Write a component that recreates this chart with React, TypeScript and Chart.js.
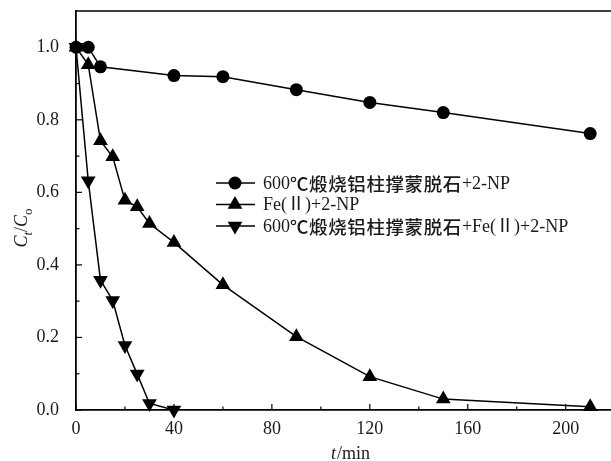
import React, { useEffect, useRef } from 'react';
import { Chart, registerables } from 'chart.js';

Chart.register(...registerables);

// ---- data ----
const legendLabels = [
  '600℃煅烧铝柱撑蒙脱石+2-NP',
  'Fe(Ⅱ)+2-NP',
  '600℃煅烧铝柱撑蒙脱石+Fe(Ⅱ)+2-NP',
];

const timeCircle = [0, 5, 10, 40, 60, 90, 120, 150, 210];
const valCircle = [1.0, 1.0, 0.946, 0.922, 0.919, 0.883, 0.848, 0.82, 0.762];

const timeUp = [0, 5, 10, 15, 20, 25, 30, 40, 60, 90, 120, 150, 210];
const valUp = [1.0, 0.952, 0.742, 0.698, 0.578, 0.56, 0.514, 0.462, 0.345, 0.202, 0.092, 0.03, 0.009];

const timeDown = [0, 5, 10, 15, 20, 25, 30, 40];
const valDown = [1.0, 0.632, 0.358, 0.302, 0.178, 0.099, 0.018, 0.0];

const xMajorTicks = [0, 40, 80, 120, 160, 200];
const xMinorTicks = [20, 60, 100, 140, 180];
const yMajorTicks = [0, 0.2, 0.4, 0.6, 0.8, 1.0];
const yMinorTicks = [0.1, 0.3, 0.5, 0.7, 0.9];

const X_MIN = 0;
const X_MAX = 218.5;
const Y_MIN = 0;
const Y_MAX = 1.1;

const SERIF = "'Liberation Serif', 'Times New Roman', 'Noto Sans CJK SC', serif";
const CJK = "'Noto Sans CJK SC', 'Liberation Serif', sans-serif";
const TEXT = '#1a1a1a';

function toPoints(xs: number[], ys: number[]) {
  return xs.map((x, i) => ({ x, y: ys[i] }));
}

function isCJK(ch: string) {
  const c = ch.codePointAt(0) || 0;
  return c === 0x2103 || c >= 0x2e80;
}

function drawMixed(ctx: CanvasRenderingContext2D, text: string, x: number, y: number) {
  let cx = x;
  for (const ch of Array.from(text)) {
    ctx.font = isCJK(ch) ? `500 18.5px ${CJK}` : `18px ${SERIF}`;
    ctx.fillText(ch, cx, y);
    cx += ctx.measureText(ch).width + (isCJK(ch) ? 0.6 : 0);
  }
}

function drawMarker(ctx: CanvasRenderingContext2D, style: string, r: number, rotDeg: number, x: number, y: number) {
  ctx.beginPath();
  if (style === 'circle') {
    ctx.arc(x, y, r, 0, Math.PI * 2);
  } else {
    let rad = (rotDeg * Math.PI) / 180;
    ctx.moveTo(x + Math.sin(rad) * r, y - Math.cos(rad) * r);
    rad += (2 * Math.PI) / 3;
    ctx.lineTo(x + Math.sin(rad) * r, y - Math.cos(rad) * r);
    rad += (2 * Math.PI) / 3;
    ctx.lineTo(x + Math.sin(rad) * r, y - Math.cos(rad) * r);
    ctx.closePath();
  }
  ctx.fill();
}

const decorPlugin = {
  id: 'decor',
  afterDraw(chart: any) {
    const { ctx, chartArea: a, scales } = chart;
    const xs = scales.x;
    const ys = scales.y;
    ctx.save();
    ctx.strokeStyle = '#000';
    ctx.fillStyle = '#000';
    ctx.lineWidth = 1.5;
    const seg = (x1: number, y1: number, x2: number, y2: number) => {
      ctx.beginPath();
      ctx.moveTo(x1, y1);
      ctx.lineTo(x2, y2);
      ctx.stroke();
    };
    // top frame line
    seg(a.left, a.top, a.right, a.top);
    // inward tick marks
    ctx.lineWidth = 1.2;
    xMajorTicks.forEach((v) => { const p = xs.getPixelForValue(v); seg(p, a.bottom, p, a.bottom - 6); });
    xMinorTicks.forEach((v) => { const p = xs.getPixelForValue(v); seg(p, a.bottom, p, a.bottom - 3.5); });
    yMajorTicks.forEach((v) => { const p = ys.getPixelForValue(v); seg(a.left, p, a.left + 6, p); });
    yMinorTicks.forEach((v) => { const p = ys.getPixelForValue(v); seg(a.left, p, a.left + 3.5, p); });

    // legend (line + marker + text)
    const lx1 = 216, lx2 = 255, mx = 235, tx = 263;
    const rows = [183, 204.5, 226];
    chart.data.datasets.forEach((ds: any, i: number) => {
      const y = rows[i];
      ctx.lineWidth = 1.5;
      ctx.fillStyle = '#000';
      seg(lx1, y, lx2, y);
      drawMarker(ctx, ds.pointStyle, ds.pointRadius, ds.rotation || 0, mx, y);
      ctx.fillStyle = TEXT;
      ctx.textAlign = 'left';
      ctx.textBaseline = 'middle';
      drawMixed(ctx, ds.label, tx, y + 1);
    });

    // x title: t/min (t italic)
    ctx.fillStyle = TEXT;
    ctx.textBaseline = 'alphabetic';
    ctx.textAlign = 'left';
    const itF = `italic 18px ${SERIF}`;
    const rgF = `18px ${SERIF}`;
    ctx.font = itF;
    const wT = ctx.measureText('t').width;
    ctx.font = rgF;
    const wRest = ctx.measureText('/min').width;
    const xc = 350;
    const xStart = xc - (wT + wRest) / 2;
    ctx.font = itF;
    ctx.fillText('t', xStart, 459);
    ctx.font = rgF;
    ctx.fillText('/min', xStart + wT + 1, 459);

    // y title: C_t / C_o rotated
    const subF = `italic 13px ${SERIF}`;
    const parts: [string, string, number][] = [
      ['C', itF, 0],
      ['t', subF, 5],
      ['/', rgF, 0],
      ['C', itF, 0],
      ['o', `13px ${SERIF}`, 5],
    ];
    let total = 0;
    const widths = parts.map(([s, f]) => { ctx.font = f; const w = ctx.measureText(s).width; total += w; return w; });
    ctx.translate(27, 228);
    ctx.rotate(-Math.PI / 2);
    let cx = -total / 2;
    parts.forEach(([s, f, dy], i) => {
      ctx.font = f;
      ctx.fillText(s, cx, dy);
      cx += widths[i];
    });
    ctx.restore();
  },
};

function zeroPad(scale: any) {
  scale.paddingTop = 0;
  scale.paddingBottom = 0;
  scale.paddingLeft = 0;
  scale.paddingRight = 0;
}

export default function App() {
  const ref = useRef<HTMLCanvasElement | null>(null);

  useEffect(() => {
    document.body.style.margin = '0';
    const canvas = ref.current;
    if (!canvas) return;
    const common = {
      borderColor: '#000',
      backgroundColor: '#000',
      pointBackgroundColor: '#000',
      pointBorderColor: '#000',
      borderWidth: 1.5,
      pointBorderWidth: 0,
      showLine: true,
      tension: 0,
      clip: false as const,
    };
    const chart = new Chart(canvas, {
      type: 'line',
      data: {
        datasets: [
          { ...common, label: legendLabels[0], data: toPoints(timeCircle, valCircle), pointStyle: 'circle', pointRadius: 6.5, rotation: 0 },
          { ...common, label: legendLabels[1], data: toPoints(timeUp, valUp), pointStyle: 'triangle', pointRadius: 8.5, rotation: 0 },
          { ...common, label: legendLabels[2], data: toPoints(timeDown, valDown), pointStyle: 'triangle', pointRadius: 8.5, rotation: 180 },
        ] as any,
      },
      options: {
        animation: false,
        responsive: false,
        layout: { autoPadding: false, padding: { top: 11, right: 0, left: 0, bottom: 0 } },
        plugins: { legend: { display: false }, tooltip: { enabled: false } },
        elements: { point: { hoverRadius: 0 } },
        scales: {
          x: {
            type: 'linear',
            min: X_MIN,
            max: X_MAX,
            grid: { display: false, drawTicks: false },
            border: { display: true, color: '#000', width: 1.8 },
            ticks: {
              font: { family: SERIF, size: 18 },
              color: TEXT,
              padding: 8,
              maxRotation: 0,
              callback: (v: any) => String(v),
            },
            afterBuildTicks: (scale: any) => { scale.ticks = xMajorTicks.map((v) => ({ value: v })); },
            afterFit: (scale: any) => { scale.height = 51; zeroPad(scale); },
          },
          y: {
            type: 'linear',
            min: Y_MIN,
            max: Y_MAX,
            grid: { display: false, drawTicks: false },
            border: { display: true, color: '#000', width: 1.8 },
            ticks: {
              font: { family: SERIF, size: 18 },
              color: TEXT,
              padding: 17,
              callback: (v: any) => Number(v).toFixed(1),
            },
            afterBuildTicks: (scale: any) => { scale.ticks = yMajorTicks.map((v) => ({ value: v })); },
            afterFit: (scale: any) => { scale.width = 76; zeroPad(scale); },
          },
        },
      } as any,
      plugins: [decorPlugin],
    });
    return () => chart.destroy();
  }, []);

  return (
    <div style={{ width: 611, height: 461, background: '#fff' }}>
      <canvas ref={ref} width={611} height={461} style={{ display: 'block' }} />
    </div>
  );
}
